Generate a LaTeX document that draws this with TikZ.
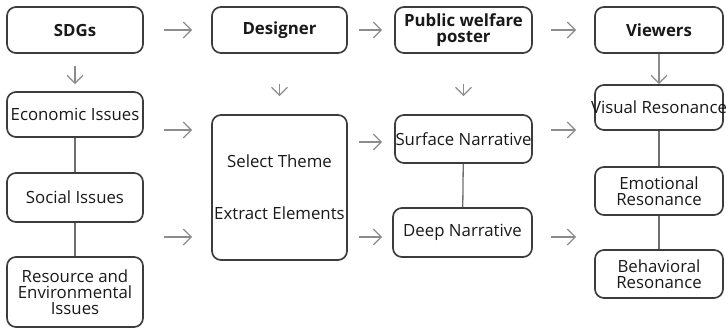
\documentclass[tikz,border=0pt]{standalone}
\usepackage{fontspec}
\setmainfont{Open Sans}
\usetikzlibrary{arrows.meta}

\definecolor{boxline}{RGB}{60,60,60}
\definecolor{arrowline}{RGB}{140,140,140}
\definecolor{linkline}{RGB}{110,110,110}

\begin{document}
\begin{tikzpicture}[x=1pt, y=-1pt,
  box/.style={draw=boxline, line width=1.7pt, rounded corners=9pt,
    align=center, inner sep=0pt, text=black!90,
    font=\fontsize{16.8}{19}\selectfont},
  head/.style={box, font=\fontsize{16.8}{19}\selectfont\bfseries},
  size/.style 2 args={minimum width=#1, minimum height=#2},
  arr/.style={draw=arrowline, line width=1.2pt,
    -{Straight Barb[length=8pt, width=16pt]}},
  link/.style={draw=linkline, line width=1.3pt}]

  \useasboundingbox (0,0) rectangle (726,329);

  % top row
  \node [head, size={136}{46}] (sdg)      at (75,30)    {SDGs};
  \node [head, size={135}{46}] (designer) at (279.5,30) {Designer};
  \node [head, size={137}{46}] (poster)   at (463.5,30) {Public welfare\\[-3pt]poster};
  \node [head, size={128}{46}] (viewers)  at (659,30)   {Viewers};

  % SDGs column
  \node [box, size={136}{45}] (econ)     at (75,114.5) {Economic Issues};
  \node [box, size={136}{49}] (social)   at (75,197.5) {Social Issues};
  \node [box, size={136}{70}] (resource) at (75,292)   {Resource and\\[-3pt]Environmental\\[-3pt]Issues};

  % designer column
  \node [box, size={135}{145}] (design) at (279.5,187.5)
    {Select Theme\\[33pt]Extract Elements};

  % poster column
  \node [box, size={137}{48}] (surface) at (463.5,139)   {\makebox[0pt]{Surface Narrative}};
  \node [box, size={139}{49}] (deep)    at (462.5,232.5) {Deep Narrative};

  % viewers column
  \node [box, size={128}{45}] (visual)     at (659,107.5) {\makebox[0pt]{Visual Resonance}};
  \node [box, size={128}{48}] (emotional)  at (659,191)   {Emotional\\[-3pt]Resonance};
  \node [box, size={128}{48}] (behavioral) at (659,274)   {Behavioral\\[-3pt]Resonance};

  % horizontal arrows
  \draw [arr, shorten <=20pt, shorten >=19pt] (sdg) -- (designer);
  \draw [arr, shorten <=11pt, shorten >=12pt] (designer) -- (poster);
  \draw [arr, shorten <=18pt, shorten >=18pt] (poster) -- (viewers);

  \draw [arr, shorten <=20pt, shorten >=19pt] (econ.east |- 0,130) -- (design.west |- 0,130);
  \draw [arr, shorten <=11pt, shorten >=12pt] (design.east |- 0,142) -- (surface.west |- 0,142);
  \draw [arr, shorten <=18pt, shorten >=18pt] (surface.east |- 0,130) -- (visual.west |- 0,130);

  \draw [arr, shorten <=20pt, shorten >=19pt] (social.east |- 0,237) -- (design.west |- 0,237);
  \draw [arr, shorten <=11pt, shorten >=10pt] (design.east |- 0,237) -- (deep.west |- 0,237);
  \draw [arr, shorten <=18pt, shorten >=18pt] (deep.east |- 0,237) -- (emotional.west |- 0,237);

  % vertical arrows
  \draw [arr, shorten <=12pt, shorten >=7pt] (sdg) -- (econ);
  \draw [arr, shorten <=30pt, shorten >=18pt] (designer) -- (design);
  \draw [arr, shorten <=30pt, shorten >=18pt] (poster) -- (surface);
  \draw [arr] (viewers) -- (visual);

  % plain links
  \draw [link] (econ) -- (social);
  \draw [link] (social) -- (resource);
  \draw [link] (surface) -- (deep);
  \draw [link] (visual) -- (emotional);
  \draw [link] (emotional) -- (behavioral);

\end{tikzpicture}
\end{document}
